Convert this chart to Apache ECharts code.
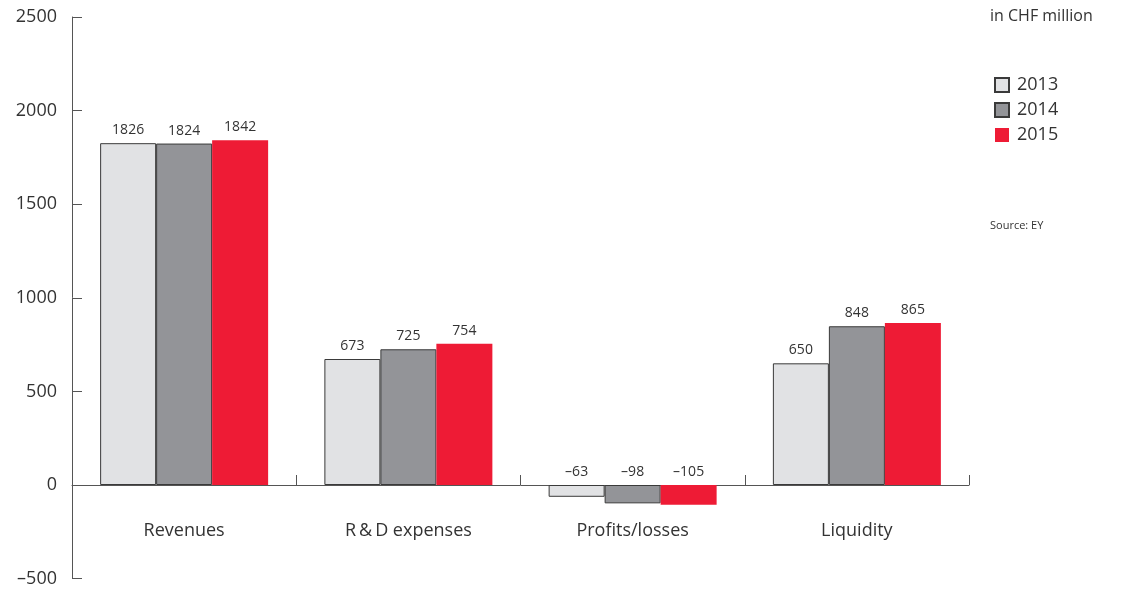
<!DOCTYPE html>
<html><head><meta charset="utf-8">
<script src="https://cdn.jsdelivr.net/npm/echarts@6/dist/echarts.min.js"></script>
<style>html,body{margin:0;padding:0;background:#fff}#c{width:1127px;height:594px}</style>
</head><body><div id="c"></div>
<script>
const categories = ['Revenues', 'R\u2009&\u2009D expenses', 'Profits/losses', 'Liquidity'];
const years = ['2013', '2014', '2015'];
const values2013 = [1826, 673, -63, 650];
const values2014 = [1824, 725, -98, 848];
const values2015 = [1842, 754, -105, 865];
const yTicks = { min: -500, max: 2500, interval: 500 };

const FONT = '"Open Sans", "Noto Sans", sans-serif';
const dash = v => String(v).replace('-', '\u2013');
const styles = [
  { color: '#e1e2e4', borderColor: '#3a3a3a', borderWidth: 1 },
  { color: '#939498', borderColor: '#3a3a3a', borderWidth: 1 },
  { color: '#ee1b35', borderWidth: 0 }
];
const data = [values2013, values2014, values2015];
const gridHeight = 561.6;
const zeroOffset = -gridHeight * (0 - yTicks.min) / (yTicks.max - yTicks.min);

const chart = echarts.init(document.getElementById('c'), null, { renderer: 'canvas' });
chart.setOption({
  animation: false,
  textStyle: { fontFamily: FONT },
  grid: { left: 72, right: 158, top: 17, height: gridHeight, containLabel: false, outerBoundsMode: 'none' },
  legend: {
    orient: 'vertical', left: 989, top: 71, itemWidth: 14, itemHeight: 14, itemGap: 7,
    icon: 'rect',
    textStyle: { fontFamily: FONT, fontSize: 18, lineHeight: 18, color: '#333', padding: [0, 0, 0, 3] },
    data: years
  },
  graphic: [
    { type: 'text', left: 990, top: 8, style: { text: 'in CHF million', fontFamily: FONT, fontSize: 16, fill: '#333' } },
    { type: 'text', left: 990, top: 220, style: { text: 'Source: EY', fontFamily: FONT, fontSize: 11, fill: '#333' } }
  ],
  xAxis: {
    type: 'category', data: categories, offset: zeroOffset,
    axisLine: { onZero: false, lineStyle: { color: '#555', width: 1 } },
    axisTick: { show: true, inside: true, length: 10, lineStyle: { color: '#555' } },
    axisLabel: { margin: 37, fontFamily: FONT, fontSize: 18, color: '#333' }
  },
  yAxis: {
    type: 'value', min: yTicks.min, max: yTicks.max, interval: yTicks.interval,
    splitLine: { show: false },
    axisLine: { show: true, lineStyle: { color: '#555', width: 1 } },
    axisTick: { show: true, inside: true, length: 10, lineStyle: { color: '#555' } },
    axisLabel: { margin: 15, fontFamily: FONT, fontSize: 18, color: '#333', formatter: v => dash(v) }
  },
  series: years.map((y, i) => ({
    name: y, type: 'bar', data: data[i], barWidth: 56, barGap: '0%',
    itemStyle: styles[i],
    label: { show: true, position: 'top', distance: 6, fontFamily: FONT, fontSize: 14, color: '#333',
      formatter: p => dash(p.value) }
  }))
});
</script></body></html>
